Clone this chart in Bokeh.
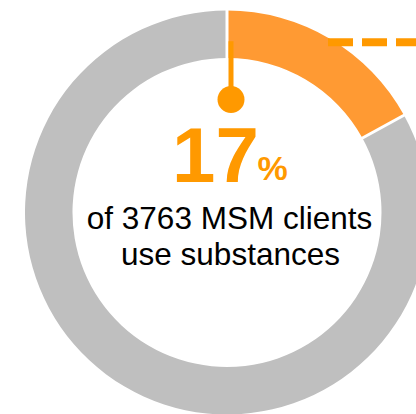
import math
from bokeh.plotting import figure
from bokeh.models import ColumnDataSource, Range1d
from bokeh.core.properties import value
from bokeh.embed import file_html
from bokeh.resources import INLINE

# ---- data ----
categories = ["Use substances", "Do not use"]
shares = [17, 83]
total_clients = 3763
colors = ["#FF9A33", "#BFBFBF"]
headline = "17"
line1 = "of 3763 MSM clients"
line2 = "use substances"

W, H = 416, 414
p = figure(width=W, height=H, output_backend="svg", toolbar_location=None,
           x_range=Range1d(0, W), y_range=Range1d(0, H), min_border=0)
p.axis.visible = False
p.grid.visible = False
p.outline_line_color = None
p.background_fill_color = "white"
p.border_fill_color = "white"

cx, cy = 226.5, 202.0
r_out, r_in = 202.0, 154.5

tot = sum(shares)
starts, ends = [], []
a = math.pi / 2
for s in shares:
    starts.append(a)
    a -= s / tot * 2 * math.pi
    ends.append(a)

src = ColumnDataSource(dict(start=starts, end=ends, color=colors, cat=categories))
p.annular_wedge(x=cx, y=cy, inner_radius=r_in, outer_radius=r_out,
                start_angle="end", end_angle="start", color="color",
                line_color=None, source=src)

# white separators at boundaries
for ang in starts:
    p.segment(x0=cx + (r_in - 2) * math.cos(ang), y0=cy + (r_in - 2) * math.sin(ang),
              x1=cx + (r_out + 2) * math.cos(ang), y1=cy + (r_out + 2) * math.sin(ang),
              line_color="white", line_width=3)

# callout stem + dot + dashed leader
orange = "#FF9900"
stem_x = cx + 4
p.segment(x0=stem_x, y0=cy + 171.3, x1=stem_x, y1=cy + 113, line_color=orange, line_width=5)
p.scatter(x=[stem_x], y=[cy + 113], size=27, color=orange, line_color=None)
p.segment(x0=cx + 101, y0=cy + 170.3, x1=W + 20, y1=cy + 170.3, line_color=orange,
          line_width=8, line_dash="25 9")

# texts
p.text(x=[cx - 55], y=[cy + 58], text=[headline], text_font=value("Liberation Sans"),
       text_font_style="bold", text_font_size="78px", text_color=orange,
       text_align="left", text_baseline="alphabetic")
p.text(x=[cx + 30.5], y=[cy + 45], text=["%"], text_font=value("Liberation Sans"),
       text_font_style="bold", text_font_size="34px", text_color=orange,
       text_align="left", text_baseline="alphabetic")
p.text(x=[cx + 2.5], y=[cy - 5], text=[line1], text_font=value("Liberation Sans"),
       text_font_size="31.5px", text_color="black",
       text_align="center", text_baseline="alphabetic")
p.text(x=[cx + 3.5], y=[cy - 41], text=[line2], text_font=value("Liberation Sans"),
       text_font_size="31.5px", text_color="black",
       text_align="center", text_baseline="alphabetic")

open("out.html", "w").write(file_html(p, INLINE))
